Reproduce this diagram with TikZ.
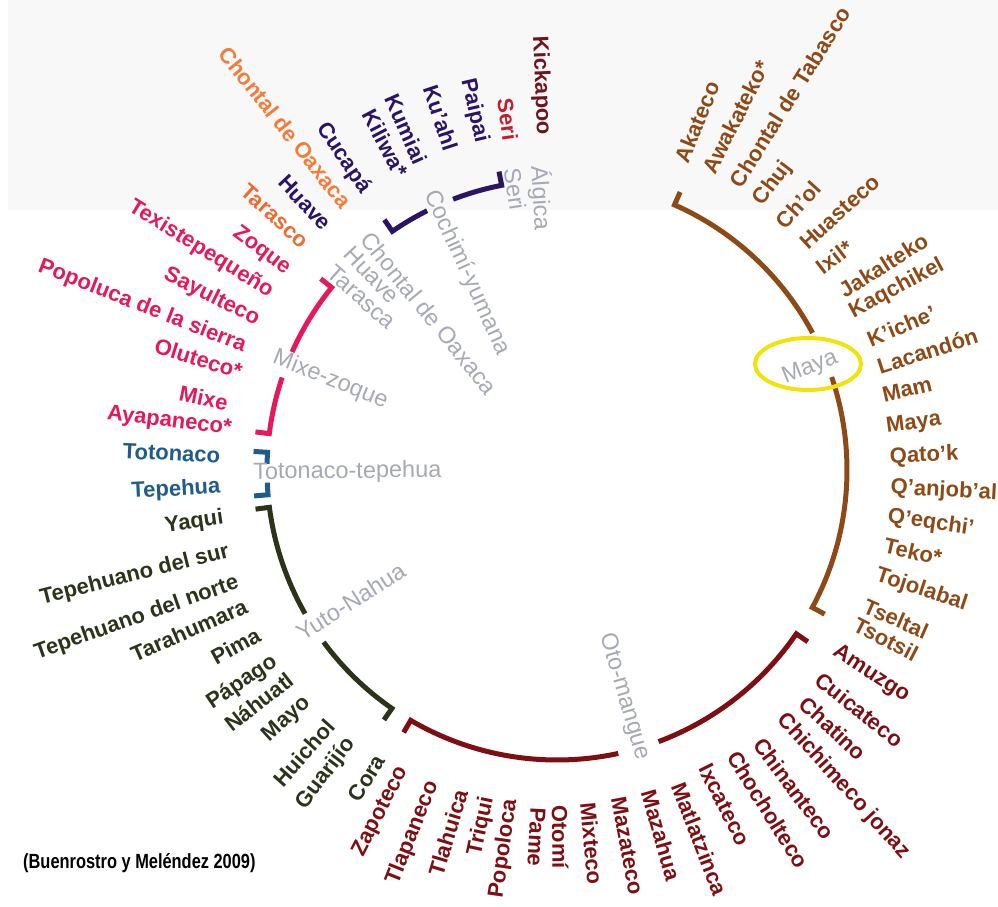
\documentclass[tikz,border=0pt]{standalone}
\usepackage{fontspec}
\setmainfont{Liberation Sans}
\newfontfamily\grayfont{Liberation Sans}
\newfontfamily\srcfont[FakeStretch=0.8]{Liberation Sans}
\definecolor{cmaroon}{HTML}{6E1420}
\definecolor{cred}{HTML}{C41E2E}
\definecolor{cpurple}{HTML}{2B1466}
\definecolor{corange}{HTML}{F27C38}
\definecolor{corange2}{HTML}{F06A30}
\definecolor{cpink}{HTML}{E5195A}
\definecolor{cblue}{HTML}{1E5C8C}
\definecolor{colive}{HTML}{2B3319}
\definecolor{coto}{HTML}{7D0F12}
\definecolor{cmaya}{HTML}{8E4A16}
\definecolor{cgray}{HTML}{A6A8B6}
\definecolor{cyel}{HTML}{F2E20A}
\definecolor{cband}{HTML}{F8F8F8}
\begin{document}
\begin{tikzpicture}[x=1pt,y=1pt,
  lab/.style={font=\bfseries\fontsize{22}{22}\selectfont, inner sep=0pt},
  glab/.style={font=\grayfont\fontsize{23.5}{23.5}\selectfont, text=cgray, inner sep=0pt},
  lft/.style={rotate=#1+180, anchor=east},
  rgt/.style={rotate=#1, anchor=west},
  glft/.style={rotate=#1+180, anchor=west},
  grgt/.style={rotate=#1, anchor=east},
  br/.style={line width=5pt, line join=miter}]
\useasboundingbox (-557,-437) rectangle (441,470);
\fill[cband] (-549,260) rectangle (441,470);

% ---------- brackets ----------
\draw[br,cmaya] (66.1:304pt) -- (66.1:290pt) arc[start angle=66.1,end angle=28.2,radius=290pt];
\draw[br,cmaya] (18.7:290pt) arc[start angle=18.7,end angle=-28.3,radius=290pt] -- (-28.3:304pt);
\draw[br,coto] (239.7:304pt) -- (239.7:290pt) arc[start angle=239.7,end angle=282.2,radius=290pt];
\draw[br,coto] (290.5:290pt) arc[start angle=290.5,end angle=325.6,radius=290pt] -- (325.6:304pt);
\draw[br,colive] (187.4:304pt) -- (187.4:290pt) arc[start angle=187.4,end angle=209.7,radius=290pt];
\draw[br,colive] (216.4:290pt) arc[start angle=216.4,end angle=235.3,radius=290pt] -- (235.3:304pt);
\draw[br,cblue] (176.5:304pt) -- (176.5:290pt) arc[start angle=176.5,end angle=178.8,radius=290pt];
\draw[br,cblue] (182.5:290pt) arc[start angle=182.5,end angle=184.9,radius=290pt] -- (184.9:304pt);
\draw[br,cpink] (141:304pt) -- (141:290pt) arc[start angle=141,end angle=156,radius=290pt];
\draw[br,cpink] (161.4:290pt) arc[start angle=161.4,end angle=172.8,radius=290pt] -- (172.8:304pt);
\draw[br,cpurple] (101:304pt) -- (101:290pt) arc[start angle=101,end angle=111,radius=290pt];
\draw[br,cpurple] (116.6:290pt) arc[start angle=116.6,end angle=124.6,radius=290pt] -- (124.6:304pt);

% highlight ellipse
\draw[cyel, line width=4pt] (251,106) ellipse [x radius=53pt, y radius=26pt];

% ---------- group labels ----------
\foreach \a/\r/\t [count=\i] in {93.4/305/Álgica, 98.5/305/Seri, 114.5/306/Cochimí-yumana,
  129.2/303/Chontal de Oaxaca, 133.5/303/Huave, 138.5/302/Tarasca, 158.3/305/Mixe-zoque,
  180.6/304/Totonaco-tepehua, 212.5/307/Yuto-Nahua}
  \node[glab, glft=\a] (gl\i) at (\a:\r pt) {\t};
\foreach \a/\r/\t [count=\i] in {286.5/302/Oto-mangue, 22/302/Maya}
  \node[glab, grgt=\a] (gr\i) at (\a:\r pt) {\t};

% ---------- language labels, left half ----------
\node[lab, lft=92.4, text=cmaroon] (kick) at (92.4:335pt) {Kickapoo};
\node[lab, lft=98, text=cred] (seri) at (98:333pt) {Seri};
\foreach \a/\r/\t [count=\i] in {103/336/Paipai, 108.3/337/Ku’ahl, 113.9/336/Kumiai,
  117.7/333/Kiliwa*, 124.4/338/Cucapá, 133.3/334/Huave}
  \node[lab, lft=\a, text=cpurple] (cy\i) at (\a:\r pt) {\t};
\node[lab, lft=128.4, text=corange] (chox) at (128.4:338pt) {Chontal de Oaxaca};
\node[lab, lft=138, text=corange2] (tara) at (138:338pt) {Tarasco};
\foreach \a/\r/\t [count=\i] in {143.4/335/Zoque, 148.2/336/Texistepequeño, 153.4/334/Sayulteco,
  158.5/335/Popoluca de la sierra, 162.7/330/Oluteco*, 168.5/336/Mixe, 172.9/328/Ayapaneco*}
  \node[lab, lft=\a, text=cpink] (mz\i) at (\a:\r pt) {\t};
\foreach \a/\r/\t [count=\i] in {177.5/337/Totonaco, 183/337/Tepehua}
  \node[lab, lft=\a, text=cblue] (tt\i) at (\a:\r pt) {\t};
\foreach \a/\r/\t [count=\i] in {188.2/337/Yaqui, 194/338/Tepehuano del sur,
  199.4/338/Tepehuano del norte, 203.5/339/Tarahumara, 208.7/340/Pima, 214/340/Pápago,
  217.9/337/Náhuatl, 222.7/339/Mayo, 228.2/339/Huichol, 232.7/340/Guarijío, 238.3/337/Cora}
  \node[lab, lft=\a, text=colive] (yn\i) at (\a:\r pt) {\t};
\foreach \a/\r/\t [count=\i] in {242.7/335/Zapoteco, 248.3/336/Tlapaneco, 253.3/334/Tlahuica,
  258/334/Triqui, 262/333/Popoloca}
  \node[lab, lft=\a, text=coto] (oml\i) at (\a:\r pt) {\t};

% ---------- language labels, right half ----------
\foreach \a/\r/\t [count=\i] in {266.8/338/Pame, 270.5/335/Otomí, 275.3/334/Mixteco,
  280.6/333/Mazateco, 285.9/333/Mazahua, 291.1/336/Matlatzinca, 296.6/330/Ixcateco,
  301.9/333/Chocholteco, 306.7/337/Chinanteco, 312.2/333/Chichimeco jonaz,
  316.9/337/Chatino, 321.6/333/Cuicateco, 327/331/Amuzgo}
  \node[lab, rgt=\a, text=coto] (omr\i) at (\a:\r pt) {\t};
\foreach \a/\r/\t [count=\i] in {332.8/335/Tsotsil, 336.3/336/Tseltal, 341.8/336/Tojolabal,
  347.1/336/Teko*, 351.9/334/Q’eqchi’, 356.9/334/Q’anjob’al, 2.2/333/Qato’k, 7.4/332/Maya,
  13/334/Mam, 17.8/337/Lacandón, 22.7/337/K’iche’, 28.1/333/Kaqchikel, 32.1/335/Jakalteko,
  37.5/330/Ixil*, 42.4/333/Huasteco, 47.7/331/Ch’ol, 53/334/Chuj,
  58/336/Chontal de Tabasco, 63.1/334/Awakateko*, 68.1/332/Akateco}
  \node[lab, rgt=\a, text=cmaya] (my\i) at (\a:\r pt) {\t};

% source
\node[font=\srcfont\bfseries\fontsize{20.5}{20.5}\selectfont, anchor=west, inner sep=0pt]
  (src) at (-534,-393) {(Buenrostro y Meléndez 2009)};
\end{tikzpicture}
\end{document}
